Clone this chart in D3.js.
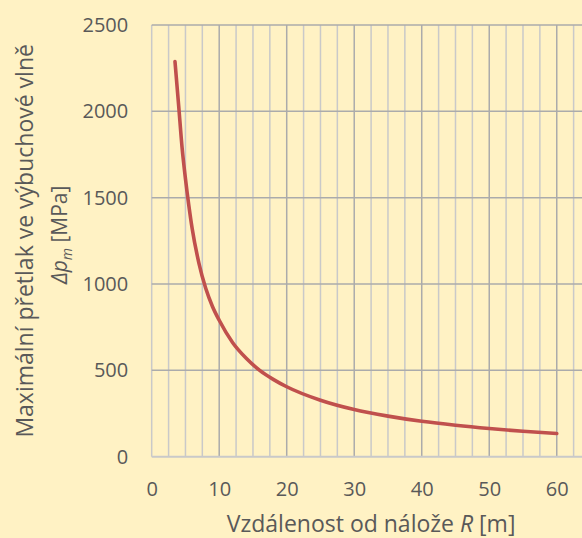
<!DOCTYPE html>
<html>
<head>
<meta charset="utf-8">
<script src="https://cdn.jsdelivr.net/npm/d3@7"></script>
<style>
  body { margin: 0; background: #fff2c4; }
  svg { display: block; font-family: "Open Sans", sans-serif; }
</style>
</head>
<body>
<svg id="chart" width="582" height="538"></svg>
<script>
'use strict';

// distance from charge R [m]
const distances = [3.45, 4, 4.5, 5, 5.5, 6, 7, 8, 9, 10, 12, 14, 16, 18, 20, 25, 30, 35, 40, 45, 50, 55, 60];
// peak overpressure [MPa]
const pressures = [2288, 2030, 1790, 1610, 1455, 1320, 1120, 975, 870, 790, 660, 570, 500, 448, 405, 327, 273, 235, 205, 182, 163, 147, 134];

const xTicks = [0, 10, 20, 30, 40, 50, 60];
const yTicks = [0, 500, 1000, 1500, 2000, 2500];

const points = distances.map((r, i) => ({ r: r, p: pressures[i] }));

const svg = d3.select('#chart');
const width = +svg.attr('width');
const height = +svg.attr('height');

const x = d3.scaleLinear().domain([0, 65]).range([151.7, 590.5]);
const y = d3.scaleLinear().domain([0, 2500]).range([456.7, 25]);

svg.append('rect')
  .attr('width', width)
  .attr('height', height)
  .attr('fill', '#fff2c4');

// minor vertical grid every 2.5 m
const grid = svg.append('g').attr('class', 'grid');
grid.selectAll('line.minor')
  .data(d3.range(0, 65.01, 2.5).filter(v => v % 10 !== 0))
  .enter().append('line')
    .attr('class', 'minor')
    .attr('x1', d => x(d)).attr('x2', d => x(d))
    .attr('y1', y(0)).attr('y2', y(2500))
    .attr('stroke', '#c9c9c9')
    .attr('stroke-width', 1.5);

grid.selectAll('line.vmajor')
  .data(xTicks)
  .enter().append('line')
    .attr('class', 'vmajor')
    .attr('x1', d => x(d)).attr('x2', d => x(d))
    .attr('y1', y(0)).attr('y2', y(2500))
    .attr('stroke', d => d === 0 ? '#c9c9c9' : '#ababab')
    .attr('stroke-width', 1.5);

grid.selectAll('line.hmajor')
  .data(yTicks)
  .enter().append('line')
    .attr('class', 'hmajor')
    .attr('x1', x(0)).attr('x2', x(65))
    .attr('y1', d => y(d)).attr('y2', d => y(d))
    .attr('stroke', d => d === 0 ? '#c9c9c9' : '#ababab')
    .attr('stroke-width', d => d === 0 ? 2 : 1.5);

// axes (labels only)
const xAxis = svg.append('g')
  .attr('transform', `translate(0,${y(0)})`)
  .call(d3.axisBottom(x).tickValues(xTicks).tickFormat(d3.format('d')).tickSize(0).tickPadding(25));
const yAxis = svg.append('g')
  .attr('transform', `translate(${x(0)},0)`)
  .call(d3.axisLeft(y).tickValues(yTicks).tickFormat(d3.format('d')).tickSize(0).tickPadding(23.5));

[xAxis, yAxis].forEach(a => {
  a.select('.domain').remove();
  a.selectAll('text')
    .attr('fill', '#595959')
    .style('font-size', '20px')
    .style('font-family', '"Open Sans", sans-serif');
});

// curve
const line = d3.line()
  .x(d => x(d.r))
  .y(d => y(d.p))
  .curve(d3.curveMonotoneX);

svg.append('path')
  .datum(points)
  .attr('d', line)
  .attr('fill', 'none')
  .attr('stroke', '#c0504d')
  .attr('stroke-width', 3.6)
  .attr('stroke-linecap', 'round');

// axis titles
const titleSize = '23px';
const xTitle = svg.append('text')
  .attr('x', (x(0) + x(65)) / 2)
  .attr('y', 532)
  .attr('text-anchor', 'middle')
  .attr('fill', '#595959')
  .style('font-size', titleSize);
xTitle.append('tspan').text('Vzdálenost od nálože ');
xTitle.append('tspan').style('font-style', 'italic').text('R');
xTitle.append('tspan').text(' [m]');

const yMid = (y(0) + y(2500)) / 2;
svg.append('text')
  .attr('transform', `translate(33,${yMid}) rotate(-90)`)
  .attr('text-anchor', 'middle')
  .attr('fill', '#595959')
  .style('font-size', titleSize)
  .text('Maximální přetlak ve výbuchové vlně');

const yTitle2 = svg.append('text')
  .attr('transform', `translate(67,${yMid - 6}) rotate(-90)`)
  .attr('text-anchor', 'middle')
  .attr('fill', '#595959')
  .style('font-size', '21px');
yTitle2.append('tspan').style('font-style', 'italic').text('Δp');
yTitle2.append('tspan').style('font-style', 'italic').style('font-size', '14px').attr('dy', 5).text('m');
yTitle2.append('tspan').attr('dy', -5).text(' [MPa]');
</script>
</body>
</html>
